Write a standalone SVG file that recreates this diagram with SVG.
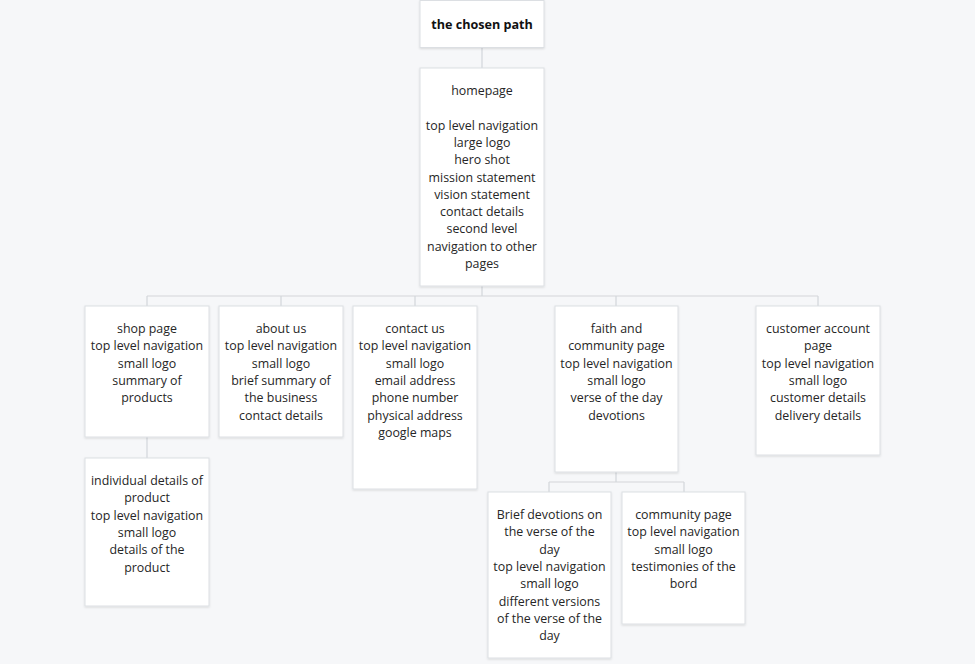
<svg xmlns="http://www.w3.org/2000/svg" width="975" height="664" viewBox="0 0 975 664">
  <defs>
    <filter id="shadow" x="-10%" y="-10%" width="120%" height="120%">
      <feDropShadow dx="0" dy="1" stdDeviation="1" flood-color="#000" flood-opacity="0.12"/>
    </filter>
    <style>
      .box { fill: #ffffff; stroke: #dcdfe3; stroke-width: 1; filter: url(#shadow); }
      .lbl { font-family: "Open Sans", "Liberation Sans", sans-serif; font-size: 12.4px; fill: #262626; text-anchor: middle; }
      .title { font-weight: bold; font-size: 12.6px; fill: #111111; }
      .link { fill: none; stroke: #d3d6da; stroke-width: 1.2; }
    </style>
  </defs>

  <rect width="975" height="664" fill="#f6f7f9"/>

  <!-- connectors -->
  <g id="connectors">
    <path class="link" d="M482 47 V68"/>
    <path class="link" d="M482 286 V296 M147 296 H818 M147 296 V306 M281 296 V306 M415 296 V306 M616 296 V306 M818 296 V306"/>
    <path class="link" d="M147 437 V458"/>
    <path class="link" d="M616 472 V482 M549 482 H684 M549 482 V492 M684 482 V492"/>
  </g>

  <!-- root -->
  <g id="node-root">
    <rect class="box" x="420" y="0.5" width="124" height="47"/>
    <text class="lbl title" x="482" y="29">the chosen path</text>
  </g>

  <!-- tspans are written back to back so no trailing spaces shift the centred lines -->
  <g id="node-homepage">
    <rect class="box" x="420" y="68" width="124" height="218"/>
    <text class="lbl" x="482" y="95"><tspan x="482">homepage</tspan><tspan x="482" dy="34.6">top level navigation</tspan><tspan x="482" dy="17.3">large logo</tspan><tspan x="482" dy="17.3">hero shot</tspan><tspan x="482" dy="17.3">mission statement</tspan><tspan x="482" dy="17.3">vision statement</tspan><tspan x="482" dy="17.3">contact details</tspan><tspan x="482" dy="17.3">second level</tspan><tspan x="482" dy="17.3">navigation to other</tspan><tspan x="482" dy="17.3">pages</tspan></text>
  </g>

  <g id="node-shop">
    <rect class="box" x="85" y="306" width="124" height="131"/>
    <text class="lbl" x="147" y="333"><tspan x="147">shop page</tspan><tspan x="147" dy="17.3">top level navigation</tspan><tspan x="147" dy="17.3">small logo</tspan><tspan x="147" dy="17.3">summary of</tspan><tspan x="147" dy="17.3">products</tspan></text>
  </g>

  <g id="node-product">
    <rect class="box" x="85" y="458" width="124" height="148"/>
    <text class="lbl" x="147" y="485"><tspan x="147">individual details of</tspan><tspan x="147" dy="17.3">product</tspan><tspan x="147" dy="17.3">top level navigation</tspan><tspan x="147" dy="17.3">small logo</tspan><tspan x="147" dy="17.3">details of the</tspan><tspan x="147" dy="17.3">product</tspan></text>
  </g>

  <g id="node-about">
    <rect class="box" x="219" y="306" width="124" height="131"/>
    <text class="lbl" x="281" y="333"><tspan x="281">about us</tspan><tspan x="281" dy="17.3">top level navigation</tspan><tspan x="281" dy="17.3">small logo</tspan><tspan x="281" dy="17.3">brief summary of</tspan><tspan x="281" dy="17.3">the business</tspan><tspan x="281" dy="17.3">contact details</tspan></text>
  </g>

  <g id="node-contact">
    <rect class="box" x="353" y="306" width="124" height="183"/>
    <text class="lbl" x="415" y="333"><tspan x="415">contact us</tspan><tspan x="415" dy="17.3">top level navigation</tspan><tspan x="415" dy="17.3">small logo</tspan><tspan x="415" dy="17.3">email address</tspan><tspan x="415" dy="17.3">phone number</tspan><tspan x="415" dy="17.3">physical address</tspan><tspan x="415" dy="17.3">google maps</tspan></text>
  </g>

  <g id="node-faith">
    <rect class="box" x="555" y="306" width="123" height="166"/>
    <text class="lbl" x="616.5" y="333"><tspan x="616.5">faith and</tspan><tspan x="616.5" dy="17.3">community page</tspan><tspan x="616.5" dy="17.3">top level navigation</tspan><tspan x="616.5" dy="17.3">small logo</tspan><tspan x="616.5" dy="17.3">verse of the day</tspan><tspan x="616.5" dy="17.3">devotions</tspan></text>
  </g>

  <g id="node-devotions">
    <rect class="box" x="488" y="492" width="123" height="166"/>
    <text class="lbl" x="549.5" y="519"><tspan x="549.5">Brief devotions on</tspan><tspan x="549.5" dy="17.3">the verse of the</tspan><tspan x="549.5" dy="17.3">day</tspan><tspan x="549.5" dy="17.3">top level navigation</tspan><tspan x="549.5" dy="17.3">small logo</tspan><tspan x="549.5" dy="17.3">different versions</tspan><tspan x="549.5" dy="17.3">of the verse of the</tspan><tspan x="549.5" dy="17.3">day</tspan></text>
  </g>

  <g id="node-community">
    <rect class="box" x="622" y="492" width="123" height="132"/>
    <text class="lbl" x="683.5" y="519"><tspan x="683.5">community page</tspan><tspan x="683.5" dy="17.3">top level navigation</tspan><tspan x="683.5" dy="17.3">small logo</tspan><tspan x="683.5" dy="17.3">testimonies of the</tspan><tspan x="683.5" dy="17.3">bord</tspan></text>
  </g>

  <g id="node-account">
    <rect class="box" x="756" y="306" width="124" height="149"/>
    <text class="lbl" x="818" y="333"><tspan x="818">customer account</tspan><tspan x="818" dy="17.3">page</tspan><tspan x="818" dy="17.3">top level navigation</tspan><tspan x="818" dy="17.3">small logo</tspan><tspan x="818" dy="17.3">customer details</tspan><tspan x="818" dy="17.3">delivery details</tspan></text>
  </g>
</svg>
